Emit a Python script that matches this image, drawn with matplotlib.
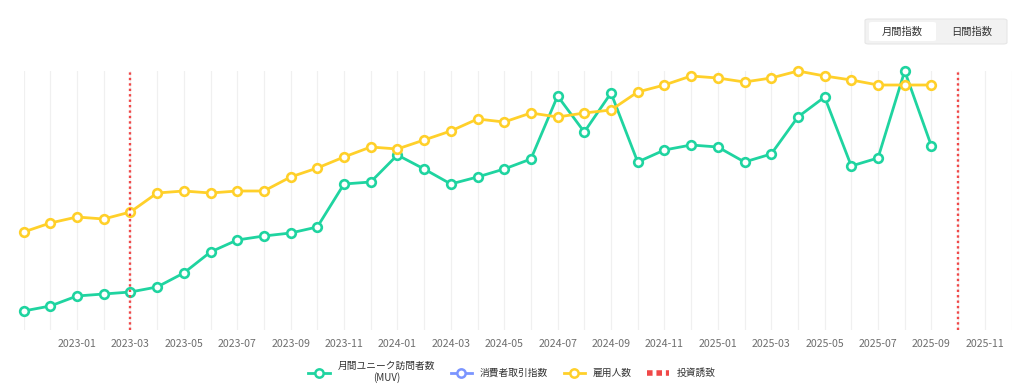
import matplotlib
matplotlib.use("Agg")
from matplotlib import pyplot as plt
from matplotlib.lines import Line2D
from matplotlib.patches import FancyBboxPatch
import pandas as pd

plt.rcParams['font.family'] = ['Noto Sans CJK JP', 'DejaVu Sans']

# months on the category axis (2022-11 .. 2025-12)
months = [p.strftime('%Y-%m') for p in pd.period_range('2022-11', '2025-12', freq='M')]

# 月間ユニーク訪問者数 (MUV), 2022-11 .. 2025-09
muv = [19, 24, 34, 36, 38, 43, 57, 78, 90, 94, 97, 103, 146, 148, 175, 161, 146,
       153, 161, 171, 234, 198, 237, 168, 180, 185, 183, 168, 176, 213, 233, 164,
       172, 259, 184]
# 雇用人数, 2022-11 .. 2025-09
employees = [98, 107, 113, 111, 118, 137, 139, 137, 139, 139, 153, 162, 173, 183,
             181, 190, 199, 211, 208, 217, 213, 217, 220, 238, 245, 254, 252, 248,
             252, 259, 254, 250, 245, 245, 245]
# 投資誘致 markers
investments = ['2023-03', '2025-10']

green = '#1fd4a0'
yellow = '#ffd02a'
blue = '#7b95ff'
red = '#f04848'

fig = plt.figure(figsize=(10.24, 3.91), dpi=100)
ax = fig.add_axes([23.6 / 1024, 61 / 391, (1011.5 - 23.6) / 1024, 259 / 391])

x_muv = list(range(len(muv)))
x_emp = list(range(len(employees)))

ax.plot(x_muv, muv, color=green, lw=2.0, marker='o', ms=6.2, mfc='white',
        mec=green, mew=1.9, zorder=3, clip_on=False)
ax.plot(x_emp, employees, color=yellow, lw=2.0, marker='o', ms=6.2, mfc='white',
        mec=yellow, mew=1.9, zorder=4, clip_on=False)

for m in investments:
    ax.axvline(months.index(m), color=red, lw=1.7, ls=(0, (1, 1.3)), zorder=5)

ax.set_xlim(0, len(months) - 1)
ax.set_ylim(0, 259)
ax.set_xticks(range(len(months)))
ax.set_xticklabels(['' for _ in months])
for i, m in enumerate(months):
    if i % 2 == 0 and i > 0 and i < len(months) - 1:
        ax.text(i, -0.035, m, transform=ax.get_xaxis_transform(), ha='center',
                va='top', fontsize=7.6, color='#6e6e6e')
ax.tick_params(axis='x', length=0)
ax.set_yticks([])
ax.grid(axis='x', color='#f0f0f0', lw=0.9, zorder=0)
for s in ax.spines.values():
    s.set_visible(False)

handles = [
    Line2D([0], [0], color=green, lw=2.0, marker='o', ms=6, mfc='white', mec=green, mew=1.8),
    Line2D([0], [0], color=blue, lw=2.0, marker='o', ms=6, mfc='white', mec=blue, mew=1.8),
    Line2D([0], [0], color=yellow, lw=2.0, marker='o', ms=6, mfc='white', mec=yellow, mew=1.8),
    Line2D([0], [0], color=red, lw=4, ls=(0, (1, 0.7))),
]
labels = ['月間ユニーク訪問者数\n(MUV)', '消費者取引指数', '雇用人数', '投資誘致']
leg = fig.legend(handles, labels, loc='center', bbox_to_anchor=(0.5, 19 / 391), ncol=4,
                 frameon=False, fontsize=7, handlelength=2.2, columnspacing=1.6,
                 handletextpad=0.8)
for t in leg.get_texts():
    t.set_multialignment('center')
    t.set_color('#333333')

# button group at the top right
fig.patches.append(FancyBboxPatch((865 / 1024, 347 / 391), 142 / 1024, 25 / 391,
                                  boxstyle='round,pad=0,rounding_size=0.004',
                                  transform=fig.transFigure, fc='#f2f2f2',
                                  ec='#e6e6e6', lw=0.8))
fig.patches.append(FancyBboxPatch((869 / 1024, 350 / 391), 67 / 1024, 19 / 391,
                                  boxstyle='round,pad=0,rounding_size=0.003',
                                  transform=fig.transFigure, fc='white',
                                  ec='none'))
fig.text(902 / 1024, 359.5 / 391, '月間指数', ha='center', va='center', fontsize=7.4, color='#333333')
fig.text(972 / 1024, 359.5 / 391, '日間指数', ha='center', va='center', fontsize=7.4, color='#333333')

fig.savefig('out.png', dpi=100)
